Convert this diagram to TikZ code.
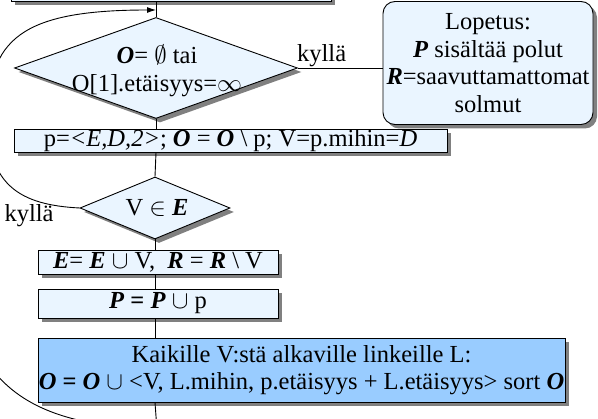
\documentclass[tikz,border=0pt]{standalone}
\usepackage{fontspec}
\setmainfont{Liberation Serif}
\usetikzlibrary{shapes.geometric,shadows,arrows.meta}
\definecolor{lightfill}{RGB}{234,245,255}
\definecolor{midfill}{RGB}{153,204,255}
\definecolor{shadowgray}{RGB}{128,128,128}
\newcommand{\bi}[1]{\textbf{\textit{#1}}}
\begin{document}
\begin{tikzpicture}[x=1pt,y=-1pt,
  font=\fontsize{24.5}{27.5}\selectfont,
  sh/.style={drop shadow={shadow xshift=4pt,shadow yshift=-4pt,fill=shadowgray,opacity=1}},
  boxs/.style={rectangle,draw=black,line width=0.9pt,fill=lightfill,sh,inner sep=0pt,align=center},
  diam/.style={diamond,draw=black,line width=0.9pt,fill=lightfill,sh,inner sep=0pt},
  conn/.style={draw=black,line width=0.9pt},
  lbl/.style={inner sep=0pt,align=center}]
\useasboundingbox (0,0) rectangle (598,419);
% top box (cut off)
\node[boxs,minimum width=320pt,minimum height=40pt] (start) at (171,-19) {};
% first decision
\node[diam,minimum width=283pt,minimum height=101pt] (d1) at (156,68) {};
\node[lbl] (d1t) at (157,71) {\bi{O}= $\emptyset$ tai\\O[1].etäisyys=$\infty$};
% end box
\node[boxs,rounded corners=12pt,minimum width=210pt,minimum height=123pt] (lop) at (488,63)
  {Lopetus:\\\bi{P} sisältää polut\\\bi{R}=saavuttamattomat\\solmut};
% p box
\node[boxs,minimum width=433pt,minimum height=23pt] (pb) at (230.5,140.5)
  {p=\textit{<E,D,2>}; \bi{O} = \bi{O} \textbackslash\ p; V=p.mihin=\textit{D}};
% second decision
\node[diam,minimum width=150pt,minimum height=62pt] (d2) at (155,208) {};
\node[lbl] (d2t) at (157,208) {V $\in$ \bi{E}};
\node[lbl] (ky2) at (29,216) {kyllä};
% E box
\node[boxs,minimum width=240pt,minimum height=24pt] (eb) at (158,262)
  {\bi{E}= \bi{E} $\cup$ V,\ \ \bi{R} = \bi{R} \textbackslash\ V};
% P box
\node[boxs,minimum width=240pt,minimum height=29pt] (ppb) at (158,303.5)
  {\bi{P} \textbf{=} \bi{P} $\cup$ p};
% big box
\node[boxs,fill=midfill,minimum width=527pt,minimum height=64pt] (kb) at (301.5,370)
  {Kaikille V:stä alkaville linkeille L:\\\bi{O} \textbf{=} \bi{O} $\cup$ <V, L.mihin, p.etäisyys + L.etäisyys> sort \bi{O}};
% coordinates
\coordinate (ain) at (156,10);
\coordinate (bot) at (157,430);
% connectors
\draw[conn] (start.south -| d1.north) -- (d1.north);
\draw[conn] (d1.east) -- node[pos=0.28,above=1pt,inner sep=0pt] (ky1) {kyllä} (d1.east -| lop.west);
\draw[conn] (d1.south) -- (d1.south |- pb.north);
\draw[conn] (d1.south |- pb.south) -- (d2.north);
\draw[conn] (d2.south) -- (d2.south |- eb.north);
\draw[conn] (d2.south |- eb.south) -- (d2.south |- ppb.north);
\draw[conn] (d2.south |- ppb.south) -- (d2.south |- kb.north);
\draw[conn] (d2.south |- kb.south) -- (bot);
\draw[conn,-{Latex[length=9pt,width=6pt]}] (d2.west) .. controls (20,205) and (-12,185) .. (-12,120)
  .. controls (-12,40) and (20,10) .. (ain);
\draw[conn] (bot) .. controls (60,425) and (0,405) .. (-30,330);
\end{tikzpicture}
\end{document}
